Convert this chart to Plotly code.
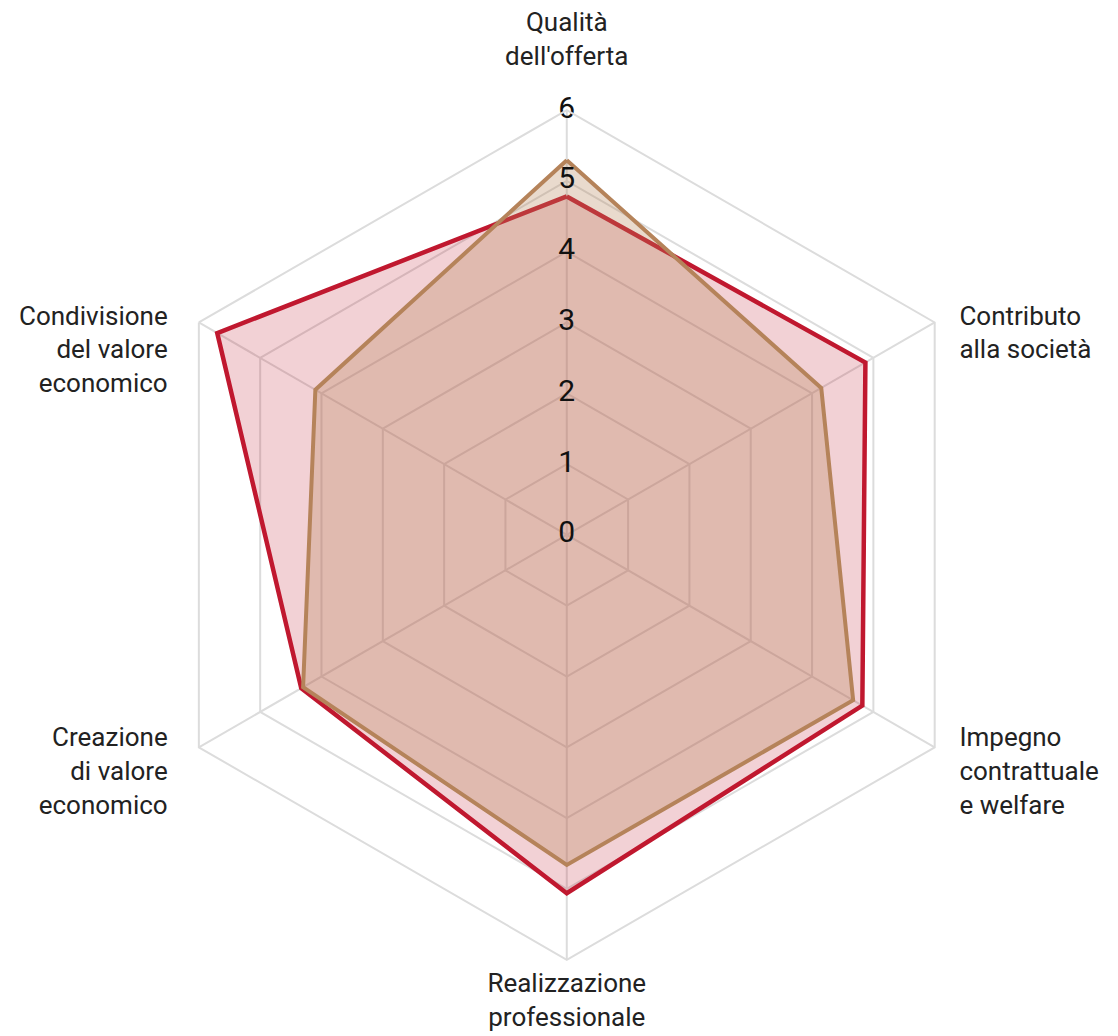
import plotly.graph_objects as go

categories = ["Qualità<br>dell'offerta", "Contributo<br>alla società", "Impegno<br>contrattuale<br>e welfare",
              "Realizzazione<br>professionale", "Creazione<br>di valore<br>economico", "Condivisione<br>del valore<br>economico"]
series_red = [4.78, 4.87, 4.82, 5.06, 4.33, 5.7]
series_brown = [5.29, 4.15, 4.67, 4.66, 4.3, 4.1]
tick_values = [0, 1, 2, 3, 4, 5, 6]
tick_labels = ["0", "1", "2", "3", "4", "5", "6"]

RED = "#c0182f"
BROWN = "#b5835a"
FONT = "Roboto"
NB_R = "\u00a0" * 3
NB_L = "\u00a0" * 4

# display text for the angular labels (padding lines / spaces only nudge placement)
def pad_label(lbl, pre=0, post=0, side=None):
    lines = lbl.split("<br>")
    if side == "right":
        lines = [NB_R + l for l in lines]
    elif side == "left":
        lines = [l + NB_L for l in lines]
    return "<br>" * pre + "<br>".join(lines) + "<br>\u00a0" * post

display_labels = [
    pad_label(categories[0], post=1),
    pad_label(categories[1], pre=3, side="right"),
    pad_label(categories[2], post=1, side="right"),
    pad_label(categories[3]),
    pad_label(categories[4], post=1, side="left"),
    pad_label(categories[5], pre=6, side="left"),
]

fig = go.Figure()

def closed(v):
    return list(v) + [v[0]]

fig.add_trace(go.Scatterpolar(
    r=closed(series_red), theta=closed(categories), mode="lines",
    line=dict(color=RED, width=4.5), fill="toself", fillcolor="rgba(192,24,47,0.2)",
    showlegend=False, hoverinfo="skip"))
fig.add_trace(go.Scatterpolar(
    r=closed(series_brown), theta=closed(categories), mode="lines",
    line=dict(color=BROWN, width=4), fill="toself", fillcolor="rgba(181,131,90,0.3)",
    showlegend=False, hoverinfo="skip"))
# radial tick labels drawn along the top spoke (a tiny epsilon keeps the centre label visible)
fig.add_trace(go.Scatterpolar(
    r=[max(v, 1e-6) for v in tick_values], theta=[categories[0]] * len(tick_values), mode="text",
    text=tick_labels, textposition="middle center", cliponaxis=False,
    textfont=dict(family=FONT, size=30, color="#111"),
    showlegend=False, hoverinfo="skip"))

fig.update_layout(
    width=1118, height=1036,
    margin=dict(l=0, r=0, t=0, b=0),
    paper_bgcolor="white",
    font=dict(family=FONT, size=26, color="#222"),
    polar=dict(
        domain=dict(x=[0.1198, 0.8798], y=[0.0811, 0.9017]),
        bgcolor="white",
        gridshape="linear",
        radialaxis=dict(range=[0, 6], tickvals=tick_values, showticklabels=False,
                        showline=False, gridcolor="#dcdcdc", gridwidth=2, ticks="", angle=90),
        angularaxis=dict(direction="clockwise", rotation=90, gridcolor="#dcdcdc", gridwidth=2,
                         linecolor="#dcdcdc", linewidth=2, ticks="outside", ticklen=0,
                         tickcolor="rgba(0,0,0,0)",
                         tickvals=categories, ticktext=display_labels,
                         tickfont=dict(family=FONT, size=26, color="#222")),
    ),
)

fig.write_html("out.html")
